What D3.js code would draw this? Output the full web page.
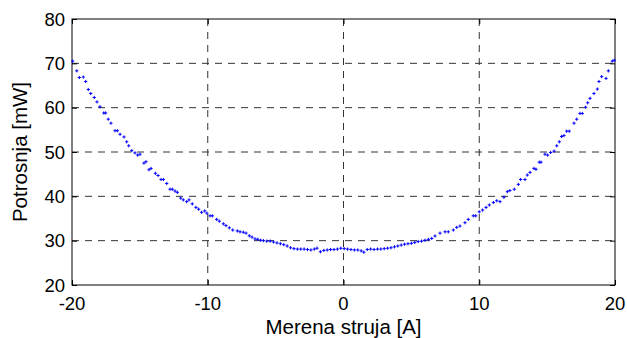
<!DOCTYPE html>
<html>
<head>
<meta charset="utf-8">
<script src="https://cdn.jsdelivr.net/npm/d3@7"></script>
<style>
  body { margin: 0; background: #fff; }
  text { font-family: "Liberation Sans", Arial, sans-serif; fill: #000; }
</style>
</head>
<body>
<div id="chart"></div>
<script>
const current = [
  -19.95, -19.65, -19.46, -19.17, -18.99, -18.8, -18.62, -18.36, -18.16, -17.94,
  -17.66, -17.52, -17.33, -17.13, -16.83, -16.66, -16.46, -16.17, -15.97, -15.82,
  -15.6, -15.36, -15.16, -14.99, -14.7, -14.55, -14.33, -14.18, -13.86, -13.66,
  -13.44, -13.27, -13.02, -12.78, -12.61, -12.41, -12.24, -11.99, -11.8, -11.55,
  -11.38, -11.14, -10.87, -10.67, -10.45, -10.22, -10.06, -9.83, -9.66, -9.34,
  -9.15, -8.85, -8.66, -8.41, -8.16, -7.82, -7.62, -7.38, -7.18, -6.94,
  -6.74, -6.52, -6.32, -6.1, -5.9, -5.65, -5.4, -5.15, -4.9, -4.65,
  -4.4, -4.15, -3.9, -3.65, -3.4, -3.15, -2.9, -2.65, -2.4, -2.15,
  -1.95, -1.7, -1.45, -1.2, -0.95, -0.7, -0.45, -0.2, 0.05, 0.3,
  0.55, 0.8, 1.05, 1.3, 1.5, 1.75, 2.0, 2.25, 2.5, 2.75,
  3.0, 3.25, 3.5, 3.75, 4.0, 4.25, 4.5, 4.75, 5.0, 5.25,
  5.5, 5.75, 6.0, 6.25, 6.5, 6.74, 7.11, 7.48, 7.72, 8.09,
  8.34, 8.58, 8.95, 9.19, 9.56, 9.74, 10.0, 10.25, 10.5, 10.74,
  11.04, 11.29, 11.53, 11.82, 12.07, 12.26, 12.58, 12.88, 13.05, 13.37,
  13.54, 13.74, 14.03, 14.18, 14.42, 14.55, 14.84, 15.04, 15.26, 15.51,
  15.71, 15.9, 16.07, 16.24, 16.44, 16.63, 16.98, 17.18, 17.42, 17.59,
  17.84, 17.99, 18.16, 18.45, 18.7, 18.82, 19.02, 19.34, 19.51, 19.8,
  19.95
];
const power = [
  70.5, 68.3, 66.8, 66.9, 65.9, 64.1, 63.2, 62.3, 61.3, 60.2,
  58.8, 58.8, 57.4, 56.5, 54.8, 54.8, 54.0, 53.4, 52.3, 51.4,
  50.3, 49.8, 49.3, 49.5, 47.5, 47.8, 46.0, 46.3, 45.2, 44.7,
  43.8, 43.8, 42.9, 41.6, 41.6, 41.2, 40.9, 39.6, 39.2, 38.8,
  39.2, 38.3, 37.5, 37.1, 36.4, 36.7, 36.2, 35.6, 35.6, 34.8,
  34.4, 33.8, 33.4, 32.9, 32.4, 32.2, 32.0, 31.9, 31.7, 31.1,
  30.8, 30.4, 30.3, 30.1, 30.0, 29.9, 29.9, 29.7, 29.5, 29.3,
  29.1, 28.8, 28.4, 28.2, 28.1, 28.1, 28.1, 28.0, 27.9, 28.1,
  28.3, 27.5, 27.8, 27.9, 28.0, 28.0, 28.1, 28.3, 28.2, 28.1,
  28.0, 27.9, 27.9, 27.7, 27.4, 28.0, 28.1, 28.0, 28.1, 28.1,
  28.2, 28.3, 28.4, 28.6, 28.8, 29.0, 29.2, 29.3, 29.4, 29.6,
  29.8, 29.9, 30.1, 30.3, 30.5, 31.05, 31.7, 32.0, 32.0, 32.4,
  33.0, 33.3, 34.05, 34.8, 35.6, 35.6, 36.5, 36.9, 37.5, 38.05,
  38.6, 39.0, 38.8, 39.8, 41.05, 41.3, 41.6, 42.7, 43.8, 43.8,
  44.8, 45.4, 46.3, 46.1, 47.7, 47.7, 49.5, 49.3, 49.9, 50.2,
  51.4, 52.3, 53.5, 53.7, 54.7, 54.7, 56.5, 57.4, 58.7, 58.7,
  60.1, 61.1, 62.1, 63.2, 64.2, 65.9, 67.0, 66.6, 68.3, 70.5,
  70.7
];
const xTicks = [-20, -10, 0, 10, 20];
const yTicks = [20, 30, 40, 50, 60, 70, 80];
const xLabel = "Merena struja [A]";
const yLabel = "Potrosnja [mW]";

const W = 627, H = 338;
const margin = { top: 19, right: 12, bottom: 53, left: 72 };
const width = W - margin.left - margin.right;
const height = H - margin.top - margin.bottom;

const svg = d3.select("#chart").append("svg")
  .attr("width", W)
  .attr("height", H);
const g = svg.append("g")
  .attr("transform", "translate(" + margin.left + "," + margin.top + ")");

const x = d3.scaleLinear().domain([-20, 20]).range([0, width]);
const y = d3.scaleLinear().domain([20, 80]).range([height, 0]);

// dashed grid
g.append("g").selectAll("line").data(xTicks.slice(1, -1)).enter().append("line")
  .attr("x1", d => x(d)).attr("x2", d => x(d))
  .attr("y1", 0).attr("y2", height)
  .attr("stroke", "#333").attr("stroke-width", 1).attr("stroke-dasharray", "7,6");
g.append("g").selectAll("line").data(yTicks.slice(1, -1)).enter().append("line")
  .attr("x1", 0).attr("x2", width)
  .attr("y1", d => y(d)).attr("y2", d => y(d))
  .attr("stroke", "#333").attr("stroke-width", 1).attr("stroke-dasharray", "7,6");

// axes, ticks pointing inward on all four sides
const axB = g.append("g").attr("transform", "translate(0," + height + ")")
  .call(d3.axisTop(x).tickValues(xTicks).tickSize(5).tickFormat(""));
const axT = g.append("g")
  .call(d3.axisBottom(x).tickValues(xTicks).tickSize(5).tickFormat(""));
const axL = g.append("g")
  .call(d3.axisRight(y).tickValues(yTicks).tickSize(5).tickFormat(""));
const axR = g.append("g").attr("transform", "translate(" + width + ",0)")
  .call(d3.axisLeft(y).tickValues(yTicks).tickSize(5).tickFormat(""));
[axB, axT, axL, axR].forEach(a => {
  a.select(".domain").remove();
  a.selectAll("line").attr("stroke", "#000");
});
g.append("rect").attr("width", width).attr("height", height)
  .attr("fill", "none").attr("stroke", "#000").attr("stroke-width", 1);

// tick labels (plain hyphen for negatives, as in the original)
g.append("g").selectAll("text").data(xTicks).enter().append("text")
  .attr("x", d => x(d)).attr("y", height + 25)
  .attr("text-anchor", "middle").attr("font-size", 18.5)
  .text(d => String(d));
g.append("g").selectAll("text").data(yTicks).enter().append("text")
  .attr("x", -7).attr("y", d => y(d) + 6.5)
  .attr("text-anchor", "end").attr("font-size", 18.5)
  .text(d => String(d));

// axis titles
svg.append("text")
  .attr("x", margin.left + x(0)).attr("y", 334)
  .attr("text-anchor", "middle").attr("font-size", 20.5)
  .text(xLabel);
svg.append("text")
  .attr("transform", "translate(27," + (margin.top + height / 2) + ") rotate(-90)")
  .attr("text-anchor", "middle").attr("font-size", 20.5)
  .text(yLabel);

// plus markers
g.append("g").selectAll("path").data(current).enter().append("path")
  .attr("transform", (d, i) => "translate(" + x(d) + "," + y(power[i]) + ")")
  .attr("d", "M-1.6,0H1.6M0,-1.6V1.6")
  .attr("stroke", "#0000ff").attr("stroke-width", 1).attr("fill", "none");
</script>
</body>
</html>
